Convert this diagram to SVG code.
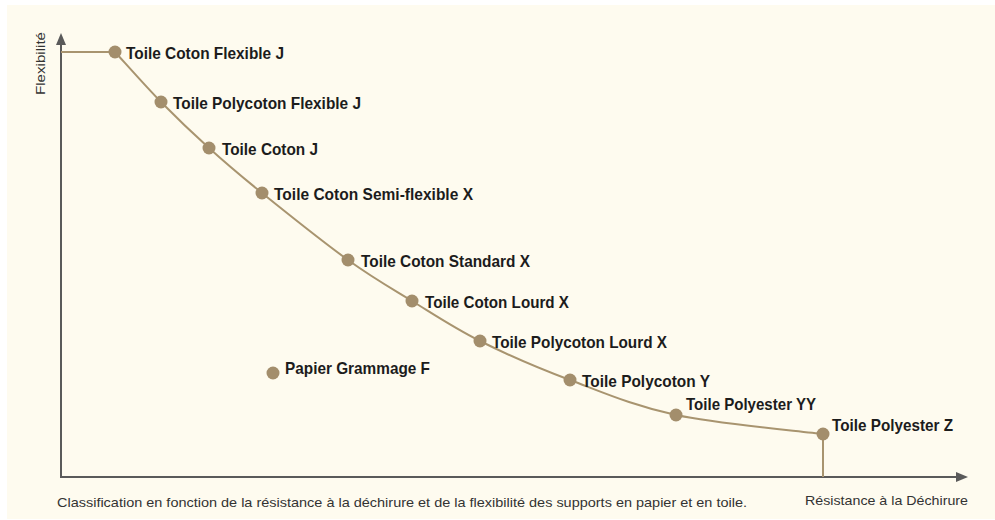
<svg xmlns="http://www.w3.org/2000/svg" width="995" height="520" viewBox="0 0 995 520">
  <defs>
    <style>
      .bg { fill: #fefbef; }
      .axis { stroke: #5a5a5a; stroke-width: 2; fill: none; }
      .arrow { fill: #5a5a5a; }
      .curve { stroke: #a8946f; stroke-width: 2; fill: none; }
      .dot { fill: #a38e6c; }
      .lbl { font-family: "Liberation Sans", Arial, sans-serif; font-weight: bold; font-size: 17px; fill: #1c1c1c; }
      .cap { font-family: "Liberation Sans", Arial, sans-serif; font-size: 13px; fill: #333333; }
    </style>
  </defs>

  <rect class="bg" x="7" y="5" width="988" height="514"/>

  <g id="axes">
    <line class="axis" x1="61" y1="44" x2="61" y2="477"/>
    <line class="axis" x1="60" y1="477" x2="958" y2="477"/>
    <polygon class="arrow" points="61,33 56,45 66,45"/>
    <polygon class="arrow" points="968,477 956,472 956,482"/>
    <text class="cap" font-size="14" transform="translate(45,95) rotate(-90)" textLength="63" lengthAdjust="spacingAndGlyphs">Flexibilité</text>
    <text class="cap" x="805" y="505" font-size="14" textLength="163" lengthAdjust="spacingAndGlyphs">Résistance à la Déchirure</text>
  </g>

  <g id="connectors">
    <line class="curve" x1="61" y1="52" x2="115" y2="52"/>
    <path class="curve" d="M115,52 C122.7,60.3 145.3,86 161,102 C176.7,118 192.2,132.8 209,148 C225.8,163.2 238.8,174.3 262,193 C285.2,211.7 323,242 348,260 C373,278 390,287.5 412,301 C434,314.5 453.7,327.8 480,341 C506.3,354.2 537.3,367.7 570,380 C602.7,392.3 633.8,406 676,415 C718.2,424 798.5,430.8 823,434"/>
    <line class="curve" x1="823" y1="434" x2="823" y2="477"/>
  </g>

  <g id="n1"><circle class="dot" cx="115" cy="52" r="6.5"/><text class="lbl" x="126" y="59" textLength="158" lengthAdjust="spacingAndGlyphs">Toile Coton Flexible J</text></g>
  <g id="n2"><circle class="dot" cx="161" cy="102" r="6.5"/><text class="lbl" x="173" y="109" textLength="188" lengthAdjust="spacingAndGlyphs">Toile Polycoton Flexible J</text></g>
  <g id="n3"><circle class="dot" cx="209" cy="148" r="6.5"/><text class="lbl" x="222" y="155" textLength="96" lengthAdjust="spacingAndGlyphs">Toile Coton J</text></g>
  <g id="n4"><circle class="dot" cx="262" cy="193" r="6.5"/><text class="lbl" x="274" y="200" textLength="199" lengthAdjust="spacingAndGlyphs">Toile Coton Semi-flexible X</text></g>
  <g id="n5"><circle class="dot" cx="348" cy="260" r="6.5"/><text class="lbl" x="361" y="267" textLength="169" lengthAdjust="spacingAndGlyphs">Toile Coton Standard X</text></g>
  <g id="n6"><circle class="dot" cx="412" cy="301" r="6.5"/><text class="lbl" x="425" y="308" textLength="144" lengthAdjust="spacingAndGlyphs">Toile Coton Lourd X</text></g>
  <g id="n7"><circle class="dot" cx="480" cy="341" r="6.5"/><text class="lbl" x="492" y="348" textLength="175" lengthAdjust="spacingAndGlyphs">Toile Polycoton Lourd X</text></g>
  <g id="n8"><circle class="dot" cx="570" cy="380" r="6.5"/><text class="lbl" x="582" y="387" textLength="128" lengthAdjust="spacingAndGlyphs">Toile Polycoton Y</text></g>
  <g id="n9"><circle class="dot" cx="676" cy="415" r="6.5"/><text class="lbl" x="686" y="410" textLength="130" lengthAdjust="spacingAndGlyphs">Toile Polyester YY</text></g>
  <g id="n10"><circle class="dot" cx="823" cy="434" r="6.5"/><text class="lbl" x="832" y="431" textLength="121" lengthAdjust="spacingAndGlyphs">Toile Polyester Z</text></g>
  <g id="n11"><circle class="dot" cx="273" cy="373" r="6.5"/><text class="lbl" x="285" y="374" textLength="145" lengthAdjust="spacingAndGlyphs">Papier Grammage F</text></g>

  <text class="cap" x="57" y="507" textLength="690" lengthAdjust="spacingAndGlyphs">Classification en fonction de la résistance à la déchirure et de la flexibilité des supports en papier et en toile.</text>
</svg>
